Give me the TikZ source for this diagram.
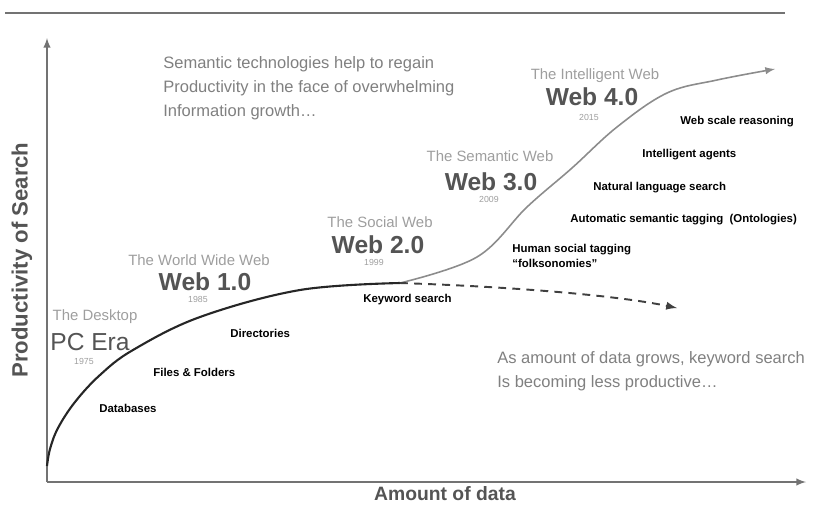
\documentclass[tikz,border=0pt]{standalone}
\usepackage{fontspec}
\setmainfont{Liberation Sans}
\usepackage{xcolor}
\usetikzlibrary{positioning}
\definecolor{axisgray}{gray}{0.45}
\definecolor{titlegray}{gray}{0.62}
\definecolor{webgray}{gray}{0.33}
\definecolor{notegray}{gray}{0.5}
\definecolor{curvegray}{gray}{0.55}
\tikzset{
    era/.style={font=\fontsize{8.5}{10}\selectfont,text=titlegray,inner sep=0pt},
    webname/.style={font=\bfseries\fontsize{14}{16}\selectfont,text=webgray,inner sep=0pt},
    year/.style={font=\fontsize{5}{6}\selectfont,text=titlegray,inner sep=0pt},
    tech/.style={font=\bfseries\fontsize{6.5}{8}\selectfont,anchor=west,inner sep=0pt},
    note/.style={font=\fontsize{9.4}{13.8}\selectfont,text=notegray,align=left,anchor=north west,inner sep=0pt},
    axislabel/.style={font=\bfseries\fontsize{11}{13}\selectfont,text=webgray,inner sep=0pt}
}

\begin{document}
\begin{tikzpicture}[x=0.02cm,y=-0.02cm]
        \useasboundingbox (0,0) rectangle (816,505);
        % Rule on top
        \coordinate (ruleL) at (5,13);
        \coordinate (ruleR) at (785,13);
        \draw[axisgray,line width=1.1pt] (ruleL)--(ruleR);
        % Axis
        \coordinate (origin) at (47,482);
        \coordinate (ytip) at (47,38);
        \coordinate (xtip) at (806,482);
        \draw[axisgray,line width=0.9pt,-latex] (origin)--(ytip);
        \draw[axisgray,line width=0.9pt,-latex] (origin)--(xtip);
        \node[axislabel,font=\bfseries\fontsize{12.6}{14}\selectfont,rotate=90] (ylab) at (22,260) {Productivity of Search};
        \node[axislabel] (xlab) at (445,494) {Amount of data};
        % Curve
        \coordinate (start) at (47,466);
        \coordinate (split) at (400,283);
        \coordinate (tip) at (775,69);
        \draw[black!85,line width=1.2pt] plot[smooth,tension=0.6] coordinates
            {(start) (50,449) (58,428) (75,402) (100,375) (133,350) (200,317) (300,290) (split)};
        \draw[curvegray,line width=0.9pt,-latex] plot[smooth,tension=0.6] coordinates
            {(split) (477,257) (527,207) (572,168) (617,127) (667,93) (717,80) (tip)};
        \coordinate (dashend) at (677,308);
        \draw[black!75,line width=1.1pt,dash pattern=on 4.5pt off 3.5pt,-latex]
            (split) .. controls (520,287) and (620,296) .. (dashend);
        % Eras
        \node[era] (desk) at (95,317) {The Desktop};
        \node[era,font=\fontsize{14}{16}\selectfont,text=webgray] (pc) at (90,342) {PC Era};
        \node[year] (y75) at (84,361) {1975};
        \node[era] (www) at (199,260) {The World Wide Web};
        \node[webname] (w1) at (205,282) {Web 1.0};
        \node[year] (y85) at (198,299) {1985};
        \node[era] (social) at (380,222) {The Social Web};
        \node[webname] (w2) at (378,245) {Web 2.0};
        \node[year] (y99) at (374,262) {1999};
        \node[era] (sem) at (490,156) {The Semantic Web};
        \node[webname] (w3) at (491,182) {Web 3.0};
        \node[year] (y09) at (489,199) {2009};
        \node[era] (intel) at (595,76) {The Intelligent Web};
        \node[webname] (w4) at (592,97) {Web 4.0};
        \node[year] (y15) at (589,117) {2015};
        % Technologies
        \node[tech] (db) at (99,408) {Databases};
        \node[tech] (files) at (153,372) {Files \& Folders};
        \node[tech] (dirs) at (230,333) {Directories};
        \node[tech] (kw) at (363,300) {Keyword search};
        \node[tech] (human) at (512,250) {Human social tagging};
        \node[tech] (folk) at (512,263) {“folksonomies”};
        \node[tech] (auto) at (570,220) {Automatic semantic tagging\ \ (Ontologies)};
        \node[tech] (nat) at (593,188) {Natural language search};
        \node[tech] (agents) at (642,155) {Intelligent agents};
        \node[tech] (reason) at (680,122) {Web scale reasoning};
        % Notes
        \node[note] (regain) at (163,56) {Semantic technologies help to regain\\Productivity in the face of overwhelming\\Information growth…};
        \node[note] (less) at (497,351) {As amount of data grows, keyword search\\Is becoming less productive…};
       \end{tikzpicture}
\end{document}
